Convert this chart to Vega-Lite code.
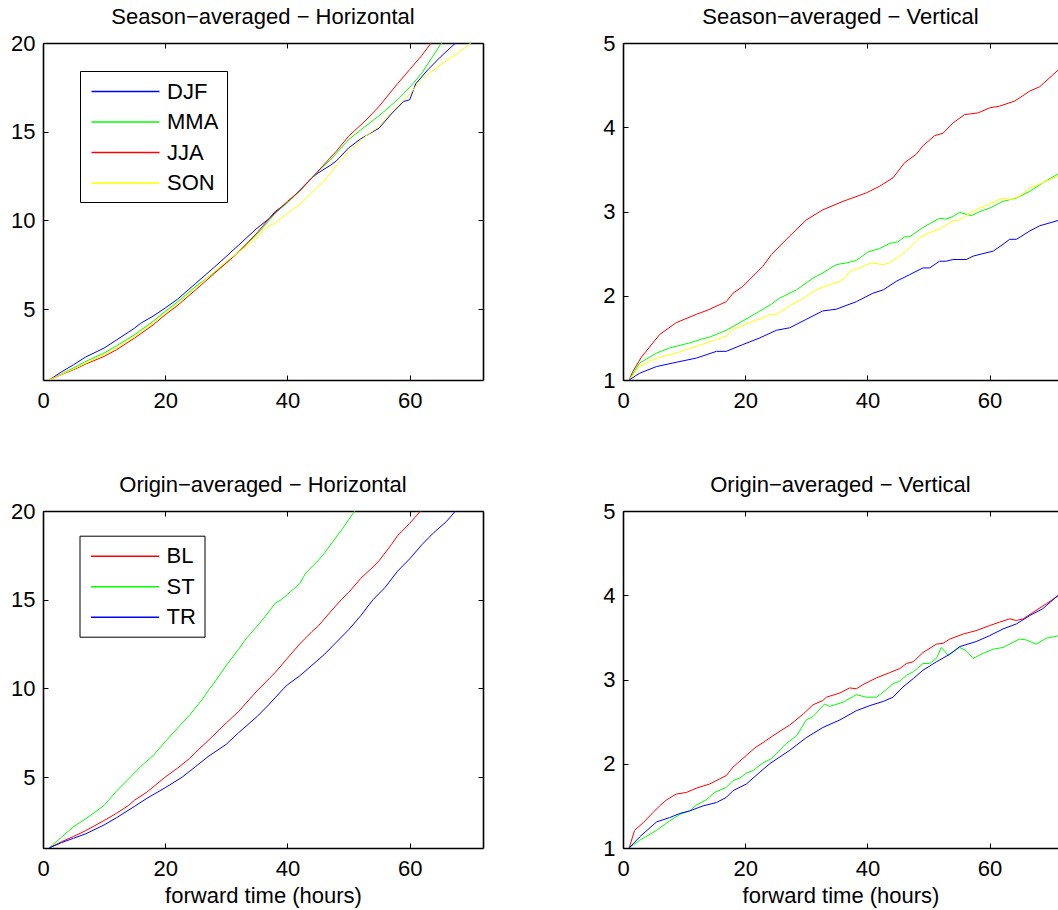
{
  "$schema": "https://vega.github.io/schema/vega-lite/v6.json",
  "background": "white",
  "padding": {"left": 10, "top": 6, "right": 0, "bottom": 4},
  "config": {
    "font": "Liberation Sans",
    "view": {"stroke": null},
    "axis": {"domainColor": "black", "domainWidth": 1.6, "tickColor": "black", "tickSize": -5, "tickWidth": 1, "labelFontSize": 22, "labelColor": "black", "labelFont": "Liberation Sans", "labelFlush": false, "grid": false, "titleFontSize": 22, "titleFontWeight": "normal", "titleColor": "black", "titleFont": "Liberation Sans"},
    "axisBottom": {"labelPadding": 15.6, "titleBaseline": "alphabetic", "titlePadding": 23},
    "axisLeft": {"labelPadding": 13},
    "legend": {"symbolType": "M-3,0H3", "symbolSize": 514, "symbolOffset": 25, "labelOffset": 29, "symbolStrokeWidth": 1.5, "labelFontSize": 22, "labelColor": "black", "labelFont": "Liberation Sans", "strokeColor": "black", "fillColor": "white", "padding": 8, "rowPadding": 6.5, "cornerRadius": 0},
    "title": {"fontSize": 22, "fontWeight": "normal", "color": "black", "font": "Liberation Sans", "baseline": "alphabetic", "offset": 3, "frame": "group", "anchor": "middle"}
  },
  "columns": 2,
  "spacing": {"row": 131, "column": 140},
  "bounds": "flush",
  "resolve": {"scale": {"x": "independent", "y": "independent", "color": "independent"}, "legend": {"color": "independent"}, "axis": {"x": "independent", "y": "independent"}},
  "datasets": {
    "sh": [
      {"t":1,"v":1,"s":"DJF"},{"t":3,"v":1.45,"s":"DJF"},{"t":5,"v":1.86,"s":"DJF"},{"t":7,"v":2.3,"s":"DJF"},{"t":10,"v":2.8,"s":"DJF"},{"t":12,"v":3.25,"s":"DJF"},{"t":14,"v":3.7,"s":"DJF"},{"t":15,"v":3.93,"s":"DJF"},{"t":16,"v":4.2,"s":"DJF"},{"t":18,"v":4.6,"s":"DJF"},{"t":20,"v":5.06,"s":"DJF"},{"t":22,"v":5.55,"s":"DJF"},{"t":25,"v":6.45,"s":"DJF"},{"t":28,"v":7.35,"s":"DJF"},{"t":30,"v":7.97,"s":"DJF"},{"t":32,"v":8.6,"s":"DJF"},{"t":35,"v":9.55,"s":"DJF"},{"t":37,"v":10.1,"s":"DJF"},{"t":38,"v":10.5,"s":"DJF"},{"t":40,"v":11.0,"s":"DJF"},{"t":42,"v":11.7,"s":"DJF"},{"t":44,"v":12.4,"s":"DJF"},{"t":45,"v":12.67,"s":"DJF"},{"t":47,"v":13.1,"s":"DJF"},{"t":48,"v":13.35,"s":"DJF"},{"t":50,"v":14.08,"s":"DJF"},{"t":52,"v":14.6,"s":"DJF"},{"t":54,"v":15.0,"s":"DJF"},{"t":55,"v":15.2,"s":"DJF"},{"t":57,"v":16.0,"s":"DJF"},{"t":59,"v":16.7,"s":"DJF"},{"t":60,"v":16.8,"s":"DJF"},{"t":61,"v":17.7,"s":"DJF"},{"t":63,"v":18.5,"s":"DJF"},{"t":65,"v":19.2,"s":"DJF"},{"t":67.5,"v":20,"s":"DJF"},{"t":69,"v":20.5,"s":"DJF"},
      {"t":1,"v":1,"s":"MMA"},{"t":3,"v":1.33,"s":"MMA"},{"t":5,"v":1.68,"s":"MMA"},{"t":7,"v":2.05,"s":"MMA"},{"t":10,"v":2.52,"s":"MMA"},{"t":12,"v":2.92,"s":"MMA"},{"t":15,"v":3.56,"s":"MMA"},{"t":18,"v":4.3,"s":"MMA"},{"t":20,"v":4.87,"s":"MMA"},{"t":22,"v":5.4,"s":"MMA"},{"t":25,"v":6.28,"s":"MMA"},{"t":28,"v":7.05,"s":"MMA"},{"t":30,"v":7.6,"s":"MMA"},{"t":32,"v":8.25,"s":"MMA"},{"t":35,"v":9.2,"s":"MMA"},{"t":38,"v":10.4,"s":"MMA"},{"t":40,"v":11.0,"s":"MMA"},{"t":42,"v":11.65,"s":"MMA"},{"t":45,"v":12.77,"s":"MMA"},{"t":47,"v":13.4,"s":"MMA"},{"t":50,"v":14.55,"s":"MMA"},{"t":52,"v":15.1,"s":"MMA"},{"t":55,"v":15.9,"s":"MMA"},{"t":58,"v":16.8,"s":"MMA"},{"t":60,"v":17.5,"s":"MMA"},{"t":62,"v":18.3,"s":"MMA"},{"t":65,"v":19.9,"s":"MMA"},{"t":66,"v":20.3,"s":"MMA"},
      {"t":1,"v":1,"s":"JJA"},{"t":3,"v":1.3,"s":"JJA"},{"t":5,"v":1.58,"s":"JJA"},{"t":7,"v":1.9,"s":"JJA"},{"t":10,"v":2.33,"s":"JJA"},{"t":12,"v":2.7,"s":"JJA"},{"t":15,"v":3.37,"s":"JJA"},{"t":18,"v":4.1,"s":"JJA"},{"t":20,"v":4.68,"s":"JJA"},{"t":22,"v":5.2,"s":"JJA"},{"t":25,"v":6.09,"s":"JJA"},{"t":28,"v":7.0,"s":"JJA"},{"t":30,"v":7.6,"s":"JJA"},{"t":32,"v":8.2,"s":"JJA"},{"t":35,"v":9.29,"s":"JJA"},{"t":37,"v":10.1,"s":"JJA"},{"t":40,"v":11.07,"s":"JJA"},{"t":42,"v":11.65,"s":"JJA"},{"t":45,"v":12.77,"s":"JJA"},{"t":48,"v":13.9,"s":"JJA"},{"t":50,"v":14.74,"s":"JJA"},{"t":53,"v":15.7,"s":"JJA"},{"t":55,"v":16.43,"s":"JJA"},{"t":58,"v":17.7,"s":"JJA"},{"t":60,"v":18.5,"s":"JJA"},{"t":62,"v":19.3,"s":"JJA"},{"t":63.5,"v":20,"s":"JJA"},{"t":65,"v":20.6,"s":"JJA"},
      {"t":1,"v":1,"s":"SON"},{"t":3,"v":1.31,"s":"SON"},{"t":5,"v":1.62,"s":"SON"},{"t":7,"v":1.95,"s":"SON"},{"t":10,"v":2.43,"s":"SON"},{"t":12,"v":2.8,"s":"SON"},{"t":15,"v":3.46,"s":"SON"},{"t":18,"v":4.2,"s":"SON"},{"t":20,"v":4.78,"s":"SON"},{"t":22,"v":5.3,"s":"SON"},{"t":25,"v":6.19,"s":"SON"},{"t":28,"v":7.1,"s":"SON"},{"t":30,"v":7.69,"s":"SON"},{"t":32,"v":8.2,"s":"SON"},{"t":35,"v":9.0,"s":"SON"},{"t":36,"v":9.4,"s":"SON"},{"t":37,"v":9.67,"s":"SON"},{"t":38,"v":9.85,"s":"SON"},{"t":40,"v":10.4,"s":"SON"},{"t":42,"v":10.9,"s":"SON"},{"t":45,"v":11.9,"s":"SON"},{"t":46,"v":12.2,"s":"SON"},{"t":48,"v":13.1,"s":"SON"},{"t":50,"v":13.9,"s":"SON"},{"t":53,"v":14.8,"s":"SON"},{"t":55,"v":15.3,"s":"SON"},{"t":57,"v":16.1,"s":"SON"},{"t":60,"v":17.1,"s":"SON"},{"t":62,"v":18.0,"s":"SON"},{"t":64,"v":18.5,"s":"SON"},{"t":66,"v":19.0,"s":"SON"},{"t":68,"v":19.45,"s":"SON"},{"t":70,"v":20,"s":"SON"},{"t":71,"v":20.3,"s":"SON"}
    ],
    "sv": [
      {"t":1,"v":1,"s":"JJA"},{"t":1.6,"v":1.1,"s":"JJA"},{"t":3,"v":1.27,"s":"JJA"},{"t":5,"v":1.45,"s":"JJA"},{"t":6,"v":1.54,"s":"JJA"},{"t":8.7,"v":1.68,"s":"JJA"},{"t":12,"v":1.78,"s":"JJA"},{"t":13.9,"v":1.83,"s":"JJA"},{"t":16.9,"v":1.93,"s":"JJA"},{"t":18,"v":2.03,"s":"JJA"},{"t":19.6,"v":2.11,"s":"JJA"},{"t":22.9,"v":2.35,"s":"JJA"},{"t":24.3,"v":2.49,"s":"JJA"},{"t":27.3,"v":2.71,"s":"JJA"},{"t":30,"v":2.9,"s":"JJA"},{"t":32.7,"v":3.02,"s":"JJA"},{"t":36,"v":3.12,"s":"JJA"},{"t":39.8,"v":3.22,"s":"JJA"},{"t":42,"v":3.3,"s":"JJA"},{"t":44.2,"v":3.4,"s":"JJA"},{"t":46.1,"v":3.58,"s":"JJA"},{"t":48,"v":3.68,"s":"JJA"},{"t":49.1,"v":3.78,"s":"JJA"},{"t":51,"v":3.9,"s":"JJA"},{"t":52.4,"v":3.93,"s":"JJA"},{"t":54,"v":4.05,"s":"JJA"},{"t":55.9,"v":4.15,"s":"JJA"},{"t":58.1,"v":4.17,"s":"JJA"},{"t":60,"v":4.23,"s":"JJA"},{"t":61.6,"v":4.25,"s":"JJA"},{"t":64.1,"v":4.31,"s":"JJA"},{"t":66.6,"v":4.43,"s":"JJA"},{"t":68.2,"v":4.48,"s":"JJA"},{"t":72,"v":4.73,"s":"JJA"},
      {"t":1,"v":1,"s":"MMA"},{"t":2.7,"v":1.2,"s":"MMA"},{"t":5.5,"v":1.32,"s":"MMA"},{"t":7.6,"v":1.38,"s":"MMA"},{"t":10.9,"v":1.44,"s":"MMA"},{"t":13.1,"v":1.49,"s":"MMA"},{"t":14.2,"v":1.51,"s":"MMA"},{"t":16.9,"v":1.59,"s":"MMA"},{"t":19.6,"v":1.7,"s":"MMA"},{"t":22.9,"v":1.84,"s":"MMA"},{"t":24.3,"v":1.9,"s":"MMA"},{"t":25.6,"v":1.97,"s":"MMA"},{"t":28.4,"v":2.07,"s":"MMA"},{"t":31.1,"v":2.21,"s":"MMA"},{"t":32.7,"v":2.27,"s":"MMA"},{"t":34.9,"v":2.37,"s":"MMA"},{"t":36.6,"v":2.39,"s":"MMA"},{"t":38.2,"v":2.42,"s":"MMA"},{"t":40.1,"v":2.52,"s":"MMA"},{"t":42,"v":2.56,"s":"MMA"},{"t":43.6,"v":2.62,"s":"MMA"},{"t":45,"v":2.64,"s":"MMA"},{"t":46.1,"v":2.7,"s":"MMA"},{"t":46.9,"v":2.7,"s":"MMA"},{"t":49.1,"v":2.81,"s":"MMA"},{"t":51.8,"v":2.92,"s":"MMA"},{"t":52.9,"v":2.91,"s":"MMA"},{"t":54,"v":2.94,"s":"MMA"},{"t":55.1,"v":2.99,"s":"MMA"},{"t":57,"v":2.95,"s":"MMA"},{"t":58.4,"v":3.0,"s":"MMA"},{"t":60,"v":3.04,"s":"MMA"},{"t":62.2,"v":3.12,"s":"MMA"},{"t":64.4,"v":3.16,"s":"MMA"},{"t":66.6,"v":3.24,"s":"MMA"},{"t":68.7,"v":3.34,"s":"MMA"},{"t":72,"v":3.48,"s":"MMA"},
      {"t":1,"v":1,"s":"SON"},{"t":2.7,"v":1.16,"s":"SON"},{"t":5.5,"v":1.26,"s":"SON"},{"t":8.7,"v":1.32,"s":"SON"},{"t":12,"v":1.4,"s":"SON"},{"t":15.3,"v":1.48,"s":"SON"},{"t":16.9,"v":1.52,"s":"SON"},{"t":18,"v":1.6,"s":"SON"},{"t":20.7,"v":1.68,"s":"SON"},{"t":22.9,"v":1.74,"s":"SON"},{"t":24.3,"v":1.78,"s":"SON"},{"t":25.1,"v":1.78,"s":"SON"},{"t":27.3,"v":1.88,"s":"SON"},{"t":29.5,"v":1.97,"s":"SON"},{"t":31.6,"v":2.07,"s":"SON"},{"t":33.3,"v":2.12,"s":"SON"},{"t":35.5,"v":2.17,"s":"SON"},{"t":36.3,"v":2.21,"s":"SON"},{"t":37.1,"v":2.29,"s":"SON"},{"t":38.7,"v":2.33,"s":"SON"},{"t":40.6,"v":2.39,"s":"SON"},{"t":42.6,"v":2.37,"s":"SON"},{"t":43.6,"v":2.39,"s":"SON"},{"t":45.3,"v":2.47,"s":"SON"},{"t":46.9,"v":2.57,"s":"SON"},{"t":48.6,"v":2.69,"s":"SON"},{"t":50.2,"v":2.75,"s":"SON"},{"t":51.8,"v":2.79,"s":"SON"},{"t":54,"v":2.89,"s":"SON"},{"t":55.1,"v":2.9,"s":"SON"},{"t":56.7,"v":2.98,"s":"SON"},{"t":58.4,"v":3.04,"s":"SON"},{"t":60.6,"v":3.11,"s":"SON"},{"t":62.2,"v":3.16,"s":"SON"},{"t":63.3,"v":3.14,"s":"SON"},{"t":64.9,"v":3.18,"s":"SON"},{"t":66.6,"v":3.28,"s":"SON"},{"t":68.7,"v":3.34,"s":"SON"},{"t":72,"v":3.45,"s":"SON"},
      {"t":1,"v":1,"s":"DJF"},{"t":2.7,"v":1.08,"s":"DJF"},{"t":5.5,"v":1.16,"s":"DJF"},{"t":8.7,"v":1.21,"s":"DJF"},{"t":12,"v":1.26,"s":"DJF"},{"t":15.3,"v":1.34,"s":"DJF"},{"t":16.9,"v":1.34,"s":"DJF"},{"t":19.6,"v":1.42,"s":"DJF"},{"t":22.4,"v":1.5,"s":"DJF"},{"t":25.1,"v":1.59,"s":"DJF"},{"t":27.3,"v":1.62,"s":"DJF"},{"t":30,"v":1.72,"s":"DJF"},{"t":32.7,"v":1.82,"s":"DJF"},{"t":34.9,"v":1.84,"s":"DJF"},{"t":38.2,"v":1.93,"s":"DJF"},{"t":40.9,"v":2.03,"s":"DJF"},{"t":42.6,"v":2.07,"s":"DJF"},{"t":44.7,"v":2.17,"s":"DJF"},{"t":46.9,"v":2.25,"s":"DJF"},{"t":49.1,"v":2.33,"s":"DJF"},{"t":50.2,"v":2.33,"s":"DJF"},{"t":51.8,"v":2.41,"s":"DJF"},{"t":52.9,"v":2.41,"s":"DJF"},{"t":54,"v":2.43,"s":"DJF"},{"t":56.2,"v":2.43,"s":"DJF"},{"t":57.3,"v":2.47,"s":"DJF"},{"t":58.9,"v":2.5,"s":"DJF"},{"t":60.6,"v":2.53,"s":"DJF"},{"t":62.2,"v":2.61,"s":"DJF"},{"t":63.3,"v":2.67,"s":"DJF"},{"t":64.4,"v":2.67,"s":"DJF"},{"t":66.6,"v":2.77,"s":"DJF"},{"t":68.2,"v":2.83,"s":"DJF"},{"t":72,"v":2.91,"s":"DJF"}
    ],
    "oh": [
      {"t":1,"v":1,"s":"BL"},{"t":3,"v":1.35,"s":"BL"},{"t":5,"v":1.65,"s":"BL"},{"t":7,"v":1.98,"s":"BL"},{"t":10,"v":2.55,"s":"BL"},{"t":12,"v":2.95,"s":"BL"},{"t":14,"v":3.4,"s":"BL"},{"t":15,"v":3.7,"s":"BL"},{"t":17,"v":4.15,"s":"BL"},{"t":20,"v":5.0,"s":"BL"},{"t":22,"v":5.5,"s":"BL"},{"t":24,"v":6.05,"s":"BL"},{"t":25,"v":6.4,"s":"BL"},{"t":27,"v":7.05,"s":"BL"},{"t":30,"v":8.05,"s":"BL"},{"t":32,"v":8.7,"s":"BL"},{"t":35,"v":9.85,"s":"BL"},{"t":37,"v":10.55,"s":"BL"},{"t":38,"v":10.9,"s":"BL"},{"t":40,"v":11.7,"s":"BL"},{"t":42,"v":12.5,"s":"BL"},{"t":44,"v":13.2,"s":"BL"},{"t":45,"v":13.5,"s":"BL"},{"t":47,"v":14.3,"s":"BL"},{"t":48.8,"v":15,"s":"BL"},{"t":50,"v":15.4,"s":"BL"},{"t":52,"v":16.2,"s":"BL"},{"t":54,"v":16.85,"s":"BL"},{"t":55,"v":17.2,"s":"BL"},{"t":57,"v":18.1,"s":"BL"},{"t":58,"v":18.6,"s":"BL"},{"t":60,"v":19.3,"s":"BL"},{"t":61.8,"v":20,"s":"BL"},{"t":63,"v":20.5,"s":"BL"},
      {"t":1,"v":1,"s":"ST"},{"t":3,"v":1.6,"s":"ST"},{"t":5,"v":2.2,"s":"ST"},{"t":7,"v":2.65,"s":"ST"},{"t":9,"v":3.15,"s":"ST"},{"t":10,"v":3.4,"s":"ST"},{"t":12,"v":4.2,"s":"ST"},{"t":14.3,"v":5.0,"s":"ST"},{"t":16,"v":5.6,"s":"ST"},{"t":18,"v":6.2,"s":"ST"},{"t":20,"v":7.0,"s":"ST"},{"t":22,"v":7.75,"s":"ST"},{"t":24,"v":8.5,"s":"ST"},{"t":26,"v":9.35,"s":"ST"},{"t":27.3,"v":10,"s":"ST"},{"t":28,"v":10.3,"s":"ST"},{"t":30,"v":11.3,"s":"ST"},{"t":32,"v":12.2,"s":"ST"},{"t":33,"v":12.7,"s":"ST"},{"t":34,"v":13.1,"s":"ST"},{"t":36,"v":13.9,"s":"ST"},{"t":38,"v":14.8,"s":"ST"},{"t":39,"v":15.0,"s":"ST"},{"t":40,"v":15.3,"s":"ST"},{"t":42,"v":15.9,"s":"ST"},{"t":43,"v":16.5,"s":"ST"},{"t":45,"v":17.2,"s":"ST"},{"t":46,"v":17.6,"s":"ST"},{"t":47.5,"v":18.3,"s":"ST"},{"t":49,"v":19.0,"s":"ST"},{"t":50,"v":19.5,"s":"ST"},{"t":51,"v":20,"s":"ST"},{"t":52,"v":20.6,"s":"ST"},
      {"t":1,"v":1,"s":"TR"},{"t":3,"v":1.3,"s":"TR"},{"t":5,"v":1.55,"s":"TR"},{"t":7,"v":1.8,"s":"TR"},{"t":10,"v":2.3,"s":"TR"},{"t":12,"v":2.7,"s":"TR"},{"t":15,"v":3.35,"s":"TR"},{"t":17,"v":3.8,"s":"TR"},{"t":20,"v":4.4,"s":"TR"},{"t":22.8,"v":5.0,"s":"TR"},{"t":25,"v":5.6,"s":"TR"},{"t":27,"v":6.15,"s":"TR"},{"t":30,"v":6.85,"s":"TR"},{"t":32,"v":7.5,"s":"TR"},{"t":35,"v":8.4,"s":"TR"},{"t":37,"v":9.1,"s":"TR"},{"t":39.4,"v":10,"s":"TR"},{"t":40,"v":10.2,"s":"TR"},{"t":42,"v":10.7,"s":"TR"},{"t":44,"v":11.3,"s":"TR"},{"t":46,"v":11.9,"s":"TR"},{"t":48,"v":12.6,"s":"TR"},{"t":50,"v":13.3,"s":"TR"},{"t":52,"v":14.1,"s":"TR"},{"t":54,"v":15,"s":"TR"},{"t":56,"v":15.7,"s":"TR"},{"t":58,"v":16.6,"s":"TR"},{"t":60,"v":17.3,"s":"TR"},{"t":62,"v":18.1,"s":"TR"},{"t":64,"v":18.8,"s":"TR"},{"t":66,"v":19.4,"s":"TR"},{"t":67.5,"v":20,"s":"TR"},{"t":69,"v":20.6,"s":"TR"}
    ],
    "ov": [
      {"t":1,"v":1,"s":"BL"},{"t":1.9,"v":1.21,"s":"BL"},{"t":3.3,"v":1.3,"s":"BL"},{"t":4.9,"v":1.42,"s":"BL"},{"t":6,"v":1.5,"s":"BL"},{"t":7.1,"v":1.57,"s":"BL"},{"t":8.7,"v":1.64,"s":"BL"},{"t":10.4,"v":1.66,"s":"BL"},{"t":12,"v":1.71,"s":"BL"},{"t":14.2,"v":1.76,"s":"BL"},{"t":15.8,"v":1.82,"s":"BL"},{"t":16.9,"v":1.86,"s":"BL"},{"t":18,"v":1.96,"s":"BL"},{"t":20.2,"v":2.1,"s":"BL"},{"t":21.8,"v":2.2,"s":"BL"},{"t":22.9,"v":2.25,"s":"BL"},{"t":24.5,"v":2.33,"s":"BL"},{"t":26.2,"v":2.41,"s":"BL"},{"t":27.3,"v":2.46,"s":"BL"},{"t":29.5,"v":2.59,"s":"BL"},{"t":31.1,"v":2.7,"s":"BL"},{"t":32.7,"v":2.75,"s":"BL"},{"t":33.3,"v":2.79,"s":"BL"},{"t":35.5,"v":2.84,"s":"BL"},{"t":37.1,"v":2.9,"s":"BL"},{"t":38.2,"v":2.89,"s":"BL"},{"t":39.3,"v":2.94,"s":"BL"},{"t":40.4,"v":2.98,"s":"BL"},{"t":41.5,"v":3.02,"s":"BL"},{"t":43.6,"v":3.08,"s":"BL"},{"t":45.3,"v":3.13,"s":"BL"},{"t":46.4,"v":3.19,"s":"BL"},{"t":47.5,"v":3.21,"s":"BL"},{"t":49.1,"v":3.32,"s":"BL"},{"t":51.3,"v":3.42,"s":"BL"},{"t":52.4,"v":3.43,"s":"BL"},{"t":53.5,"v":3.48,"s":"BL"},{"t":55.7,"v":3.54,"s":"BL"},{"t":57.8,"v":3.58,"s":"BL"},{"t":60,"v":3.64,"s":"BL"},{"t":61.6,"v":3.68,"s":"BL"},{"t":63.3,"v":3.72,"s":"BL"},{"t":64.4,"v":3.7,"s":"BL"},{"t":65.5,"v":3.72,"s":"BL"},{"t":67.6,"v":3.82,"s":"BL"},{"t":69.3,"v":3.9,"s":"BL"},{"t":72,"v":4.03,"s":"BL"},
      {"t":1,"v":1,"s":"ST"},{"t":2.7,"v":1.09,"s":"ST"},{"t":5.5,"v":1.21,"s":"ST"},{"t":7.6,"v":1.32,"s":"ST"},{"t":9.3,"v":1.4,"s":"ST"},{"t":10.9,"v":1.44,"s":"ST"},{"t":12,"v":1.51,"s":"ST"},{"t":13.6,"v":1.57,"s":"ST"},{"t":15,"v":1.66,"s":"ST"},{"t":16.9,"v":1.72,"s":"ST"},{"t":18,"v":1.8,"s":"ST"},{"t":19.1,"v":1.83,"s":"ST"},{"t":20.2,"v":1.89,"s":"ST"},{"t":21.3,"v":1.92,"s":"ST"},{"t":22.9,"v":2.01,"s":"ST"},{"t":24.3,"v":2.06,"s":"ST"},{"t":25.1,"v":2.12,"s":"ST"},{"t":26.7,"v":2.24,"s":"ST"},{"t":28.4,"v":2.33,"s":"ST"},{"t":30,"v":2.52,"s":"ST"},{"t":31.1,"v":2.56,"s":"ST"},{"t":33,"v":2.71,"s":"ST"},{"t":33.8,"v":2.68,"s":"ST"},{"t":36,"v":2.73,"s":"ST"},{"t":38.2,"v":2.82,"s":"ST"},{"t":39.8,"v":2.79,"s":"ST"},{"t":41.5,"v":2.79,"s":"ST"},{"t":43.1,"v":2.88,"s":"ST"},{"t":44.2,"v":2.95,"s":"ST"},{"t":45.3,"v":2.98,"s":"ST"},{"t":46.4,"v":3.05,"s":"ST"},{"t":47.5,"v":3.09,"s":"ST"},{"t":49.1,"v":3.19,"s":"ST"},{"t":50.2,"v":3.19,"s":"ST"},{"t":51.3,"v":3.25,"s":"ST"},{"t":52.1,"v":3.38,"s":"ST"},{"t":53.2,"v":3.29,"s":"ST"},{"t":55.1,"v":3.38,"s":"ST"},{"t":56.2,"v":3.34,"s":"ST"},{"t":57.3,"v":3.25,"s":"ST"},{"t":58.9,"v":3.31,"s":"ST"},{"t":60.6,"v":3.36,"s":"ST"},{"t":62.2,"v":3.38,"s":"ST"},{"t":63.8,"v":3.44,"s":"ST"},{"t":64.9,"v":3.48,"s":"ST"},{"t":66,"v":3.47,"s":"ST"},{"t":67.6,"v":3.42,"s":"ST"},{"t":69.3,"v":3.49,"s":"ST"},{"t":72,"v":3.53,"s":"ST"},
      {"t":1,"v":1,"s":"TR"},{"t":2.7,"v":1.13,"s":"TR"},{"t":5.5,"v":1.31,"s":"TR"},{"t":7.6,"v":1.36,"s":"TR"},{"t":9.3,"v":1.41,"s":"TR"},{"t":10.9,"v":1.44,"s":"TR"},{"t":13.1,"v":1.5,"s":"TR"},{"t":15.3,"v":1.54,"s":"TR"},{"t":16.9,"v":1.6,"s":"TR"},{"t":18,"v":1.68,"s":"TR"},{"t":20.2,"v":1.76,"s":"TR"},{"t":22.4,"v":1.9,"s":"TR"},{"t":24,"v":2.0,"s":"TR"},{"t":27.3,"v":2.16,"s":"TR"},{"t":30,"v":2.31,"s":"TR"},{"t":32.7,"v":2.43,"s":"TR"},{"t":35.5,"v":2.52,"s":"TR"},{"t":38.2,"v":2.63,"s":"TR"},{"t":40.4,"v":2.69,"s":"TR"},{"t":42.6,"v":2.74,"s":"TR"},{"t":44.2,"v":2.79,"s":"TR"},{"t":45.8,"v":2.91,"s":"TR"},{"t":47.5,"v":3.01,"s":"TR"},{"t":49.1,"v":3.11,"s":"TR"},{"t":51.3,"v":3.21,"s":"TR"},{"t":53.5,"v":3.3,"s":"TR"},{"t":55.1,"v":3.39,"s":"TR"},{"t":57.8,"v":3.45,"s":"TR"},{"t":60,"v":3.52,"s":"TR"},{"t":62.2,"v":3.6,"s":"TR"},{"t":64.4,"v":3.66,"s":"TR"},{"t":66.6,"v":3.76,"s":"TR"},{"t":68.7,"v":3.84,"s":"TR"},{"t":72,"v":4.05,"s":"TR"}
    ]
  },
  "concat": [
    {
      "width": 440, "height": 337,
      "title": {"text": "Season−averaged − Horizontal"},
      "data": {"name": "sh"},
      "layer": [
        {"mark": {"type": "line", "strokeWidth": 1, "clip": true},
         "encoding": {
           "x": {"field": "t", "type": "quantitative", "scale": {"domain": [0, 72], "nice": false, "zero": false}, "axis": {"orient": "bottom", "values": [0, 20, 40, 60], "title": null}},
           "y": {"field": "v", "type": "quantitative", "scale": {"domain": [1, 20], "nice": false, "zero": false}, "axis": {"orient": "left", "values": [5, 10, 15, 20], "title": null}},
           "color": {"field": "s", "type": "nominal", "scale": {"domain": ["DJF", "MMA", "JJA", "SON"], "range": ["#0000ff", "#00ff00", "#ff0000", "#ffff00"]}, "legend": {"title": null, "orient": "none", "legendX": 37, "legendY": 28}}
         }},
        {"mark": {"type": "line", "strokeOpacity": 0, "clip": true},
         "encoding": {
           "x": {"field": "t", "type": "quantitative", "scale": {"domain": [0, 72], "nice": false, "zero": false}, "axis": {"orient": "top", "values": [0, 20, 40, 60], "labels": false, "title": null}},
           "y": {"field": "v", "type": "quantitative", "scale": {"domain": [1, 20], "nice": false, "zero": false}, "axis": {"orient": "right", "values": [5, 10, 15, 20], "labels": false, "title": null}}
         }}
      ],
      "resolve": {"axis": {"x": "independent", "y": "independent"}}
    },
    {
      "width": 435, "height": 337,
      "title": {"text": "Season−averaged − Vertical"},
      "data": {"name": "sv"},
      "layer": [
        {"mark": {"type": "line", "strokeWidth": 1, "clip": true},
         "encoding": {
           "x": {"field": "t", "type": "quantitative", "scale": {"domain": [0, 71.2], "nice": false, "zero": false}, "axis": {"orient": "bottom", "values": [0, 20, 40, 60], "title": null}},
           "y": {"field": "v", "type": "quantitative", "scale": {"domain": [1, 5], "nice": false, "zero": false}, "axis": {"orient": "left", "values": [1, 2, 3, 4, 5], "title": null}},
           "color": {"field": "s", "type": "nominal", "scale": {"domain": ["DJF", "MMA", "JJA", "SON"], "range": ["#0000ff", "#00ff00", "#ff0000", "#ffff00"]}, "legend": null}
         }},
        {"mark": {"type": "line", "strokeOpacity": 0, "clip": true},
         "encoding": {
           "x": {"field": "t", "type": "quantitative", "scale": {"domain": [0, 71.2], "nice": false, "zero": false}, "axis": {"orient": "top", "values": [0, 20, 40, 60], "labels": false, "title": null}},
           "y": {"field": "v", "type": "quantitative", "scale": {"domain": [1, 5], "nice": false, "zero": false}, "axis": null}
         }}
      ],
      "resolve": {"axis": {"x": "independent", "y": "independent"}}
    },
    {
      "width": 440, "height": 337,
      "title": {"text": "Origin−averaged − Horizontal"},
      "data": {"name": "oh"},
      "layer": [
        {"mark": {"type": "line", "strokeWidth": 1, "clip": true},
         "encoding": {
           "x": {"field": "t", "type": "quantitative", "scale": {"domain": [0, 72], "nice": false, "zero": false}, "axis": {"orient": "bottom", "values": [0, 20, 40, 60], "title": "forward time (hours)"}},
           "y": {"field": "v", "type": "quantitative", "scale": {"domain": [1, 20], "nice": false, "zero": false}, "axis": {"orient": "left", "values": [5, 10, 15, 20], "title": null}},
           "color": {"field": "s", "type": "nominal", "scale": {"domain": ["BL", "ST", "TR"], "range": ["#ff0000", "#00ff00", "#0000ff"]}, "legend": {"title": null, "orient": "none", "legendX": 36.5, "legendY": 24.7}}
         }},
        {"mark": {"type": "line", "strokeOpacity": 0, "clip": true},
         "encoding": {
           "x": {"field": "t", "type": "quantitative", "scale": {"domain": [0, 72], "nice": false, "zero": false}, "axis": {"orient": "top", "values": [0, 20, 40, 60], "labels": false, "title": null}},
           "y": {"field": "v", "type": "quantitative", "scale": {"domain": [1, 20], "nice": false, "zero": false}, "axis": {"orient": "right", "values": [5, 10, 15, 20], "labels": false, "title": null}}
         }}
      ],
      "resolve": {"axis": {"x": "independent", "y": "independent"}}
    },
    {
      "width": 435, "height": 337,
      "title": {"text": "Origin−averaged − Vertical"},
      "data": {"name": "ov"},
      "layer": [
        {"mark": {"type": "line", "strokeWidth": 1, "clip": true},
         "encoding": {
           "x": {"field": "t", "type": "quantitative", "scale": {"domain": [0, 71.2], "nice": false, "zero": false}, "axis": {"orient": "bottom", "values": [0, 20, 40, 60], "title": "forward time (hours)"}},
           "y": {"field": "v", "type": "quantitative", "scale": {"domain": [1, 5], "nice": false, "zero": false}, "axis": {"orient": "left", "values": [1, 2, 3, 4, 5], "title": null}},
           "color": {"field": "s", "type": "nominal", "scale": {"domain": ["BL", "ST", "TR"], "range": ["#ff0000", "#00ff00", "#0000ff"]}, "legend": null}
         }},
        {"mark": {"type": "line", "strokeOpacity": 0, "clip": true},
         "encoding": {
           "x": {"field": "t", "type": "quantitative", "scale": {"domain": [0, 71.2], "nice": false, "zero": false}, "axis": {"orient": "top", "values": [0, 20, 40, 60], "labels": false, "title": null}},
           "y": {"field": "v", "type": "quantitative", "scale": {"domain": [1, 5], "nice": false, "zero": false}, "axis": null}
         }}
      ],
      "resolve": {"axis": {"x": "independent", "y": "independent"}}
    }
  ]
}
